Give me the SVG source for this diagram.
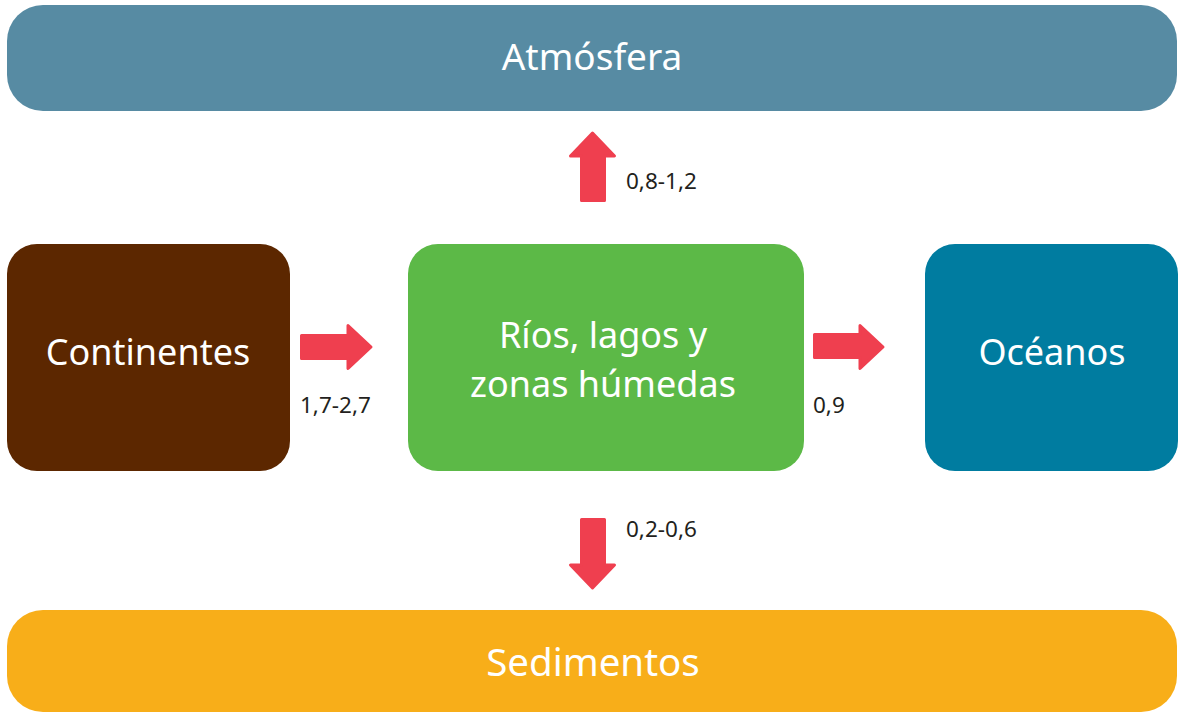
<svg xmlns="http://www.w3.org/2000/svg" width="1178" height="715" viewBox="0 0 1178 715">
<style>
.box-text{font-family:"Noto Sans","Open Sans","Liberation Sans",sans-serif;font-size:36px;fill:#ffffff;text-anchor:middle}
.lbl{font-family:"Noto Sans","Open Sans","Liberation Sans",sans-serif;font-size:22.5px;fill:#231f20}
.arrow{fill:#ef3f4f;stroke:#ef3f4f;stroke-width:3;stroke-linejoin:round}
</style>
<rect width="1178" height="715" fill="#ffffff"/>
<g id="atmosfera">
<rect x="7" y="5" width="1170" height="106" rx="36" fill="#578ba3"/>
<text class="box-text" x="592" y="70" style="font-size:37px">Atmósfera</text>
</g>
<g id="continentes">
<rect x="7" y="244" width="283" height="227" rx="30" fill="#5c2700"/>
<text class="box-text" x="148" y="365">Continentes</text>
</g>
<g id="rios">
<rect x="408" y="244" width="396" height="227" rx="30" fill="#5cb947"/>
<text class="box-text" x="603" y="348">Ríos, lagos y</text>
<text class="box-text" x="603" y="397">zonas húmedas</text>
</g>
<g id="oceanos">
<rect x="925" y="244" width="253" height="227" rx="30" fill="#007ca0"/>
<text class="box-text" x="1052" y="365">Océanos</text>
</g>
<g id="sedimentos">
<rect x="7" y="610" width="1170" height="102" rx="36" fill="#f8ae19"/>
<text class="box-text" x="593" y="676" style="font-size:38.5px">Sedimentos</text>
</g>
<g id="connectors">
<path class="arrow" d="M581.5,200.5 L581.5,156 L570.5,156 L592.5,133 L614.5,156 L604.5,156 L604.5,200.5 Z"/>
<text class="lbl" x="626" y="189">0,8-1,2</text>
<path class="arrow" d="M301.5,335.5 L348,335.5 L348,325.5 L371,347 L348,368.5 L348,358.5 L301.5,358.5 Z"/>
<text class="lbl" x="300" y="413">1,7-2,7</text>
<path class="arrow" d="M814.5,334.5 L860,334.5 L860,325.5 L883,347 L860,368.5 L860,357.5 L814.5,357.5 Z"/>
<text class="lbl" x="813" y="413">0,9</text>
<path class="arrow" d="M581.5,519.5 L604.5,519.5 L604.5,565 L614.5,565 L592.5,588 L570.5,565 L581.5,565 Z"/>
<text class="lbl" x="626" y="537">0,2-0,6</text>
</g>
</svg>
